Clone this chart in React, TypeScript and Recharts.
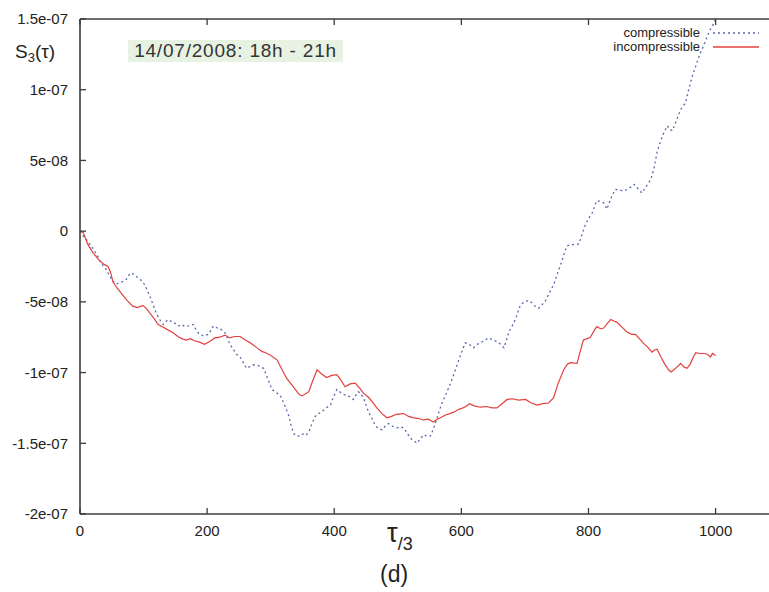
import { LineChart, Line, XAxis, YAxis, Legend } from 'recharts';

// tau/3 positions and S3 values (in units of 1e-8)
const compX = [0, 6, 12, 20, 27, 33, 41, 47, 52, 57, 62, 68, 73, 77, 81, 86, 91, 97, 102, 106, 110, 115, 120, 126, 131, 135, 139, 144, 149, 155, 160, 165, 171, 178, 183, 188, 195, 202, 206, 210, 216, 222, 227, 230, 234, 238, 242, 246, 252, 257, 262, 268, 273, 280, 289, 295, 302, 308, 315, 321, 328, 332, 336, 341, 346, 352, 356, 360, 365, 370, 375, 380, 387, 394, 399, 404, 410, 417, 424, 430, 434, 438, 442, 446, 450, 454, 460, 465, 470, 475, 480, 485, 492, 499, 504, 509, 515, 520, 525, 530, 535, 541, 546, 551, 555, 559, 564, 569, 576, 583, 589, 596, 601, 606, 612, 619, 625, 630, 637, 643, 650, 656, 662, 667, 671, 675, 680, 685, 689, 693, 699, 706, 712, 717, 722, 727, 732, 738, 745, 752, 759, 763, 766, 772, 780, 785, 790, 795, 800, 806, 810, 813, 818, 824, 829, 835, 842, 849, 856, 863, 868, 872, 878, 884, 890, 898, 903, 908, 913, 918, 924, 928, 932, 938, 945, 953, 957, 961, 965, 969, 976, 982, 987, 991, 995, 1000];
const compY = [0, -0.4, -0.7, -1.2, -1.7, -2.25, -2.7, -3.2, -3.55, -3.75, -3.65, -3.55, -3.4, -3.1, -2.95, -3.1, -3.3, -3.5, -3.8, -4.2, -4.6, -5.2, -5.8, -6.3, -6.6, -6.4, -6.25, -6.4, -6.5, -6.7, -6.6, -6.75, -6.7, -6.6, -7.0, -7.3, -7.4, -7.3, -7.0, -6.7, -6.85, -6.95, -7.1, -7.35, -7.8, -8.15, -8.4, -8.7, -8.9, -9.3, -9.7, -9.55, -9.45, -9.5, -9.7, -10.4, -11.2, -11.4, -11.6, -12.2, -13.0, -13.7, -14.3, -14.5, -14.5, -14.3, -14.4, -14.2, -13.6, -13.1, -12.9, -12.8, -12.5, -12.3, -11.7, -11.2, -11.4, -11.6, -11.7, -11.9, -11.6, -11.35, -11.5, -11.8, -12.3, -12.8, -13.3, -13.8, -13.95, -14.05, -13.8, -13.6, -13.8, -13.9, -13.85, -13.9, -14.3, -14.65, -14.8, -15.0, -14.7, -14.4, -14.5, -14.5, -14.1, -13.6, -12.9, -12.2, -11.5, -10.75, -10.0, -9.1, -8.5, -7.9, -8.0, -8.25, -8.0, -7.9, -7.7, -7.55, -7.7, -7.8, -8.0, -8.25, -7.7, -7.1, -6.7, -6.25, -5.7, -5.2, -5.0, -4.9, -5.1, -5.35, -5.45, -5.2, -4.95, -4.4, -3.8, -2.9, -2.0, -1.4, -1.05, -0.95, -0.95, -0.9, -0.2, 0.45, 0.9, 1.3, 1.8, 2.15, 2.1, 2.0, 1.55, 2.3, 2.95, 2.9, 2.85, 3.0, 3.15, 3.3, 3.0, 2.7, 3.1, 3.65, 4.4, 5.6, 6.3, 6.9, 7.45, 7.2, 7.1, 7.8, 8.6, 9.1, 9.9, 10.6, 11.2, 11.7, 12.6, 13.2, 13.8, 14.2, 14.5, 15.0];

const incompX = [0, 5, 12, 20, 31, 38, 44, 48, 52, 58, 65, 74, 83, 90, 99, 105, 110, 117, 123, 131, 139, 147, 154, 160, 167, 174, 180, 188, 196, 204, 212, 220, 228, 236, 243, 252, 260, 268, 277, 286, 292, 299, 305, 310, 318, 325, 332, 339, 345, 349, 355, 360, 366, 373, 380, 388, 396, 404, 410, 417, 425, 433, 440, 446, 455, 462, 467, 475, 483, 490, 498, 509, 517, 525, 533, 540, 548, 556, 562, 567, 575, 582, 588, 596, 605, 613, 620, 630, 640, 648, 656, 664, 672, 680, 690, 701, 710, 719, 728, 737, 745, 752, 761, 767, 772, 782, 787, 792, 798, 803, 808, 813, 819, 824, 830, 835, 840, 845, 853, 861, 868, 874, 880, 887, 893, 900, 904, 908, 914, 920, 926, 930, 937, 942, 945, 950, 955, 960, 965, 969, 975, 982, 987, 992, 995, 1000];
const incompY = [0, -0.1, -0.9, -1.5, -2.1, -2.35, -2.5, -2.9, -3.6, -4.0, -4.4, -4.9, -5.3, -5.4, -5.25, -5.5, -5.8, -6.2, -6.6, -6.8, -7.0, -7.2, -7.45, -7.6, -7.7, -7.6, -7.75, -7.85, -8.0, -7.8, -7.55, -7.5, -7.35, -7.55, -7.45, -7.45, -7.7, -7.9, -8.2, -8.5, -8.6, -8.75, -8.95, -9.1, -9.8, -10.4, -10.8, -11.2, -11.55, -11.65, -11.5, -11.35, -10.6, -9.8, -10.1, -10.35, -10.2, -10.15, -10.5, -11.0, -10.8, -10.75, -11.1, -11.45, -11.8, -12.2, -12.5, -12.9, -13.2, -13.1, -12.95, -12.9, -13.1, -13.2, -13.25, -13.35, -13.3, -13.5, -13.3, -13.2, -13.0, -12.9, -12.8, -12.6, -12.45, -12.2, -12.35, -12.45, -12.4, -12.5, -12.5, -12.2, -11.9, -11.85, -11.95, -11.9, -12.15, -12.3, -12.2, -12.15, -11.8, -10.8, -9.8, -9.4, -9.3, -9.35, -8.5, -7.7, -7.6, -7.5, -7.1, -6.75, -6.9, -6.85, -6.5, -6.25, -6.35, -6.45, -6.8, -7.15, -7.3, -7.3, -7.6, -7.95, -8.2, -8.55, -8.4, -8.35, -8.9, -9.4, -9.8, -9.95, -9.7, -9.5, -9.35, -9.6, -9.7, -9.4, -8.9, -8.6, -8.65, -8.65, -8.7, -8.9, -8.65, -8.8];

const X_TICKS = [0, 200, 400, 600, 800, 1000];
const Y_TICKS = [15, 10, 5, 0, -5, -10, -15, -20];
const Y_TICK_LABELS = ['1.5e-07', '1e-07', '5e-08', '0', '-5e-08', '-1e-07', '-1.5e-07', '-2e-07'];

const compressible = compX.map((x, i) => ({ x, y: compY[i] }));
const incompressible = incompX.map((x, i) => ({ x, y: incompY[i] }));

const FONT = "'Liberation Sans', Arial, Helvetica, sans-serif";
const AXIS = '#3c3c3c';
const BLUE = '#5b67ad';
const RED = '#e2403e';

const BottomTick = (props: any) => {
  const { x, y, payload } = props;
  return (
    <g>
      <line x1={x} x2={x} y1={y} y2={y - 6} stroke={AXIS} strokeWidth={1.3} />
      <text x={x} y={y + 17} dy="0.35em" textAnchor="middle" fontSize={15} fill="#222" fontFamily={FONT}>
        {payload.value}
      </text>
    </g>
  );
};

const TopTick = (props: any) => {
  const { x, y } = props;
  return <line x1={x} x2={x} y1={y} y2={y + 6} stroke={AXIS} strokeWidth={1.3} />;
};

const LeftTick = (props: any) => {
  const { x, y, payload } = props;
  const label = Y_TICK_LABELS[Y_TICKS.indexOf(payload.value)];
  return (
    <g>
      <line x1={x} x2={x + 6} y1={y} y2={y} stroke={AXIS} strokeWidth={1.3} />
      <text x={x - 12} y={y} dy="0.35em" textAnchor="end" fontSize={15} fill="#222" fontFamily={FONT}>
        {label}
      </text>
    </g>
  );
};

const LegendBox = (props: any) => {
  const { payload } = props;
  return (
    <div style={{ fontFamily: FONT, fontSize: 13, color: '#222' }}>
      {payload.map((p: any) => (
        <div key={p.value} style={{ display: 'flex', justifyContent: 'flex-end', alignItems: 'center', height: 14 }}>
          <span style={{ lineHeight: '14px' }}>{p.value}</span>
          <svg width={46} height={14} style={{ marginLeft: 13 }}>
            <line
              x1={0}
              x2={46}
              y1={7}
              y2={7}
              stroke={p.color}
              strokeWidth={1.3}
              strokeDasharray={p.payload.strokeDasharray}
            />
          </svg>
        </div>
      ))}
    </div>
  );
};

export default function App() {
  return (
    <div style={{ position: 'absolute', left: 0, top: 0, width: 769, height: 592, overflow: 'hidden', background: '#fff' }}>
      <LineChart width={769} height={592} margin={{ top: 18, right: 0, bottom: 0, left: 0 }}>
        <XAxis
          dataKey="x"
          type="number"
          domain={[0, 1084]}
          ticks={X_TICKS}
          allowDataOverflow
          height={78}
          tickSize={0}
          tickMargin={0}
          tick={BottomTick}
          axisLine={{ stroke: AXIS, strokeWidth: 1.6 }}
          tickLine={false}
        />
        <XAxis
          xAxisId="top"
          orientation="top"
          dataKey="x"
          type="number"
          domain={[0, 1084]}
          ticks={X_TICKS}
          allowDataOverflow
          height={1}
          tickSize={0}
          tickMargin={0}
          tick={TopTick}
          axisLine={{ stroke: AXIS, strokeWidth: 1.6 }}
          tickLine={false}
        />
        <YAxis
          type="number"
          domain={[-20, 15]}
          ticks={Y_TICKS}
          allowDataOverflow
          width={80}
          tickSize={0}
          tickMargin={0}
          tick={LeftTick}
          axisLine={{ stroke: AXIS, strokeWidth: 1.6 }}
          tickLine={false}
          interval={0}
        />
        <Legend
          verticalAlign="middle"
          align="center"
          layout="horizontal"
          width={300}
          wrapperStyle={{ top: 26, right: 10, left: 'auto' }}
          content={LegendBox}
        />
        <Line
          name="compressible"
          data={compressible}
          dataKey="y"
          type="linear"
          stroke={BLUE}
          strokeWidth={1.3}
          strokeDasharray="2 3"
          dot={false}
          isAnimationActive={false}
        />
        <Line
          name="incompressible"
          data={incompressible}
          dataKey="y"
          type="linear"
          stroke={RED}
          strokeWidth={1.2}
          dot={false}
          isAnimationActive={false}
        />
      </LineChart>

      <div
        style={{
          position: 'absolute',
          left: 128,
          top: 40,
          width: 215,
          height: 22,
          background: '#e7f2e3',
          fontFamily: FONT,
          fontSize: 19,
          letterSpacing: 0.8,
          color: '#333',
          lineHeight: '22px',
          textAlign: 'center',
          whiteSpace: 'nowrap',
        }}
      >
        14/07/2008: 18h - 21h
      </div>

      <div style={{ position: 'absolute', left: 15, top: 41, fontFamily: FONT, fontSize: 19, color: '#222', whiteSpace: 'nowrap' }}>
        S<sub style={{ fontSize: 13, verticalAlign: '-4px' }}>3</sub>(τ)
      </div>

      <div style={{ position: 'absolute', left: 387, top: 518, fontFamily: FONT, color: '#222', whiteSpace: 'nowrap' }}>
        <span style={{ fontSize: 27 }}>τ</span>
        <span style={{ fontSize: 18, position: 'relative', top: 8 }}>/3</span>
      </div>

      <div style={{ position: 'absolute', left: 380, top: 561, fontFamily: FONT, fontSize: 23, color: '#222', whiteSpace: 'nowrap' }}>
        (d)
      </div>
    </div>
  );
}
